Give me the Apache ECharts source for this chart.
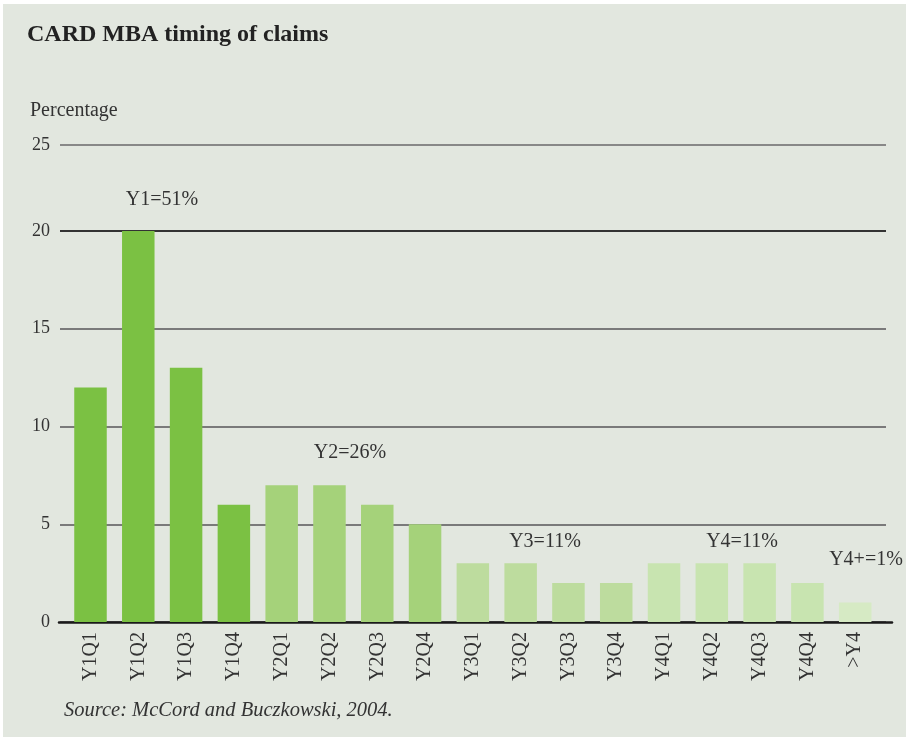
<!DOCTYPE html>
<html>
<head>
<meta charset="utf-8">
<script src="https://cdn.jsdelivr.net/npm/echarts@6/dist/echarts.min.js"></script>
<style>
  html, body { margin: 0; padding: 0; background: #ffffff; }
  #c { position: absolute; left: 0; top: 0; width: 910px; height: 739px; }
  #frame { position: absolute; left: 0; top: 0; width: 910px; height: 739px; box-sizing: border-box;
           border-style: solid; border-color: #ffffff; border-width: 4px 4px 2px 3px; pointer-events: none; }
</style>
</head>
<body>
<div id="c"></div>
<div id="frame"></div>
<script>
const categories = ['Y1Q1','Y1Q2','Y1Q3','Y1Q4','Y2Q1','Y2Q2','Y2Q3','Y2Q4',
                    'Y3Q1','Y3Q2','Y3Q3','Y3Q4','Y4Q1','Y4Q2','Y4Q3','Y4Q4','>Y4'];
const values = [12, 20, 13, 6, 7, 7, 6, 5, 3, 3, 2, 2, 3, 3, 3, 2, 1];
const groupOf = [0,0,0,0, 1,1,1,1, 2,2,2,2, 3,3,3,3, 4];
const groupLabels = ['Y1=51%', 'Y2=26%', 'Y3=11%', 'Y4=11%', 'Y4+=1%'];
const yTickLabels = ['0', '5', '10', '15', '20', '25'];

const groupColors = ['#7bc143', '#a5d27a', '#bddc9e', '#c8e4b0', '#d6eac4'];
const FONT = 'Liberation Serif';
const YMAX = 24.4;

const chart = echarts.init(document.getElementById('c'));

const labelPos = [[162, 200], [350, 453], [545, 542], [742, 542], [866, 560]];

chart.setOption({
  backgroundColor: '#e2e7df',
  animation: false,
  title: {
    text: 'CARD MBA timing of claims',
    left: 22, top: 18,
    textStyle: { fontFamily: FONT, fontSize: 24, fontWeight: 'bold', color: '#222' }
  },
  grid: [
    { left: 60, right: 24, top: 145, bottom: 117 },
    { left: 59, right: 18, top: 145, bottom: 117 },
    { left: 66.6, right: 30.9, top: 145, bottom: 117 }
  ],
  xAxis: [
    { gridIndex: 0, type: 'value', show: false },
    { gridIndex: 1, type: 'category', data: [''],
      axisLine: { show: true, lineStyle: { color: '#1a1a1a', width: 2.5 } },
      axisTick: { show: false }, axisLabel: { show: false } },
    { gridIndex: 2, type: 'category', data: categories,
      axisLine: { show: false }, axisTick: { show: false },
      axisLabel: { rotate: 90, margin: 10, interval: 0, fontFamily: FONT, fontSize: 20, color: '#333' } }
  ],
  yAxis: [
    { gridIndex: 0, type: 'value', min: 0, max: YMAX, interval: 5,
      axisLine: { show: false }, axisTick: { show: false },
      axisLabel: { margin: 10, fontFamily: FONT, fontSize: 18, color: '#333',
        formatter: (v, i) => yTickLabels[i] },
      splitLine: { show: true, lineStyle: { width: 2,
        color: ['#7a7a7a', '#7a7a7a', '#7a7a7a', '#7a7a7a', '#333333', '#888888'] } } },
    { gridIndex: 1, type: 'value', min: 0, max: YMAX, show: false },
    { gridIndex: 2, type: 'value', min: 0, max: YMAX, show: false }
  ],
  series: [{
    type: 'bar',
    xAxisIndex: 2, yAxisIndex: 2,
    barWidth: 32.5,
    z: 3,
    data: values.map((v, i) => ({ value: v, itemStyle: { color: groupColors[groupOf[i]] } }))
  }],
  graphic: [
    { type: 'text', left: 30, top: 101,
      style: { text: 'Percentage', fontFamily: FONT, fontSize: 20, fill: '#333' } },
    { type: 'text', left: 64, top: 701,
      style: { text: 'Source: McCord and Buczkowski, 2004.', fontFamily: FONT, fontStyle: 'italic', fontSize: 20.5, fill: '#333' } }
  ].concat(groupLabels.map((t, i) => ({
    type: 'text', x: labelPos[i][0], y: labelPos[i][1], z: 10,
    style: { text: t, fontFamily: FONT, fontSize: 20, fill: '#333', align: 'center', verticalAlign: 'middle' }
  })))
});
</script>
</body>
</html>
